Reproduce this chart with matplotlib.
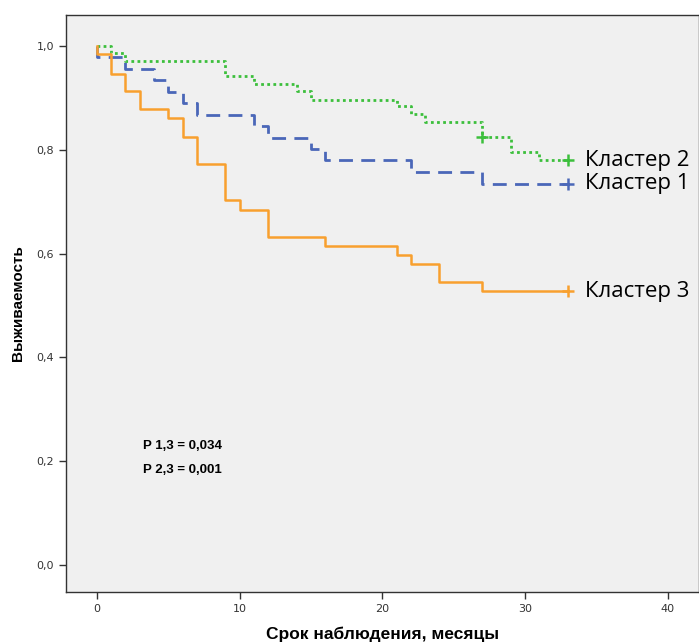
import matplotlib.pyplot as plt

# Kaplan-Meier данные (время в месяцах, выживаемость)
t_k1 = [0, 0, 2, 4, 5, 6, 7, 11, 12, 15, 16, 22, 27, 33]
s_k1 = [1.0, 0.979, 0.956, 0.934, 0.912, 0.891, 0.867, 0.846, 0.823, 0.801, 0.780, 0.758, 0.735, 0.735]

t_k2 = [0, 1, 2, 9, 11, 14, 15, 21, 22, 23, 27, 29, 31, 33]
s_k2 = [1.0, 0.986, 0.971, 0.942, 0.928, 0.913, 0.897, 0.884, 0.870, 0.854, 0.825, 0.796, 0.780, 0.780]

t_k3 = [0, 0, 1, 2, 3, 5, 6, 7, 9, 10, 12, 16, 21, 22, 24, 27, 33]
s_k3 = [1.0, 0.984, 0.947, 0.913, 0.878, 0.861, 0.825, 0.772, 0.703, 0.685, 0.633, 0.615, 0.597, 0.580, 0.546, 0.528, 0.528]

cens_k1 = [33]
cens_k2 = [27, 33]
cens_k3 = [33]

labels = ['Кластер 1', 'Кластер 2', 'Кластер 3']
xticks = [0, 10, 20, 30, 40]
yticks = [0.0, 0.2, 0.4, 0.6, 0.8, 1.0]

c1, c2, c3 = '#4a67b8', '#3cbf3c', '#f8a02e'

fig = plt.figure(figsize=(6.99, 6.44), dpi=100)
ax = fig.add_axes([0.0944, 0.0807, 0.9056, 0.896])
ax.set_facecolor('#f0f0f0')

ax.plot(t_k2, s_k2, drawstyle='steps-post', color=c2, lw=2, ls=(0, (1, 1.2)))
ax.plot(t_k1, s_k1, drawstyle='steps-post', color=c1, lw=2, ls=(0, (5, 3)))
ax.plot(t_k3, s_k3, drawstyle='steps-post', color=c3, lw=1.8)

def step_val(ts, ss, x):
    v = ss[0]
    for t, s in zip(ts, ss):
        if t <= x:
            v = s
    return v

for ts, ss, cens, col in [(t_k1, s_k1, cens_k1, c1), (t_k2, s_k2, cens_k2, c2), (t_k3, s_k3, cens_k3, c3)]:
    ax.plot(cens, [step_val(ts, ss, c) for c in cens], '+', color=col, ms=8, mew=1.8)

ax.set_xlim(-2.17, 42.2)
ax.set_ylim(-0.052, 1.06)
ax.set_xticks(xticks)
ax.set_xticklabels([str(x) for x in xticks])
ax.set_yticks(yticks)
ax.set_yticklabels([f'{y:.1f}'.replace('.', ',') for y in yticks])
ax.tick_params(direction='out', length=5, width=1, colors='#333333', labelsize=8, labelcolor='#333333')
for sp in ax.spines.values():
    sp.set_color('#333333')
    sp.set_linewidth(1)

ax.set_xlabel('Срок наблюдения, месяцы', fontsize=12.5, fontweight='bold', labelpad=9, family='Liberation Sans')
ax.set_ylabel('Выживаемость', fontsize=11, fontweight='bold', labelpad=8, family='Liberation Sans')

# подписи кластеров справа от кривых
ax.text(34.2, s_k2[-1], labels[1], fontsize=16, va='center', family='Open Sans')
ax.text(34.2, s_k1[-1], labels[0], fontsize=16, va='center', family='Open Sans')
ax.text(34.2, s_k3[-1], labels[2], fontsize=16, va='center', family='Open Sans')

ax.text(3.2, 0.224, 'P 1,3 = 0,034', fontsize=9.5, fontweight='bold', family='Liberation Sans')
ax.text(3.2, 0.178, 'P 2,3 = 0,001', fontsize=9.5, fontweight='bold', family='Liberation Sans')

fig.savefig('out.png', dpi=100)
